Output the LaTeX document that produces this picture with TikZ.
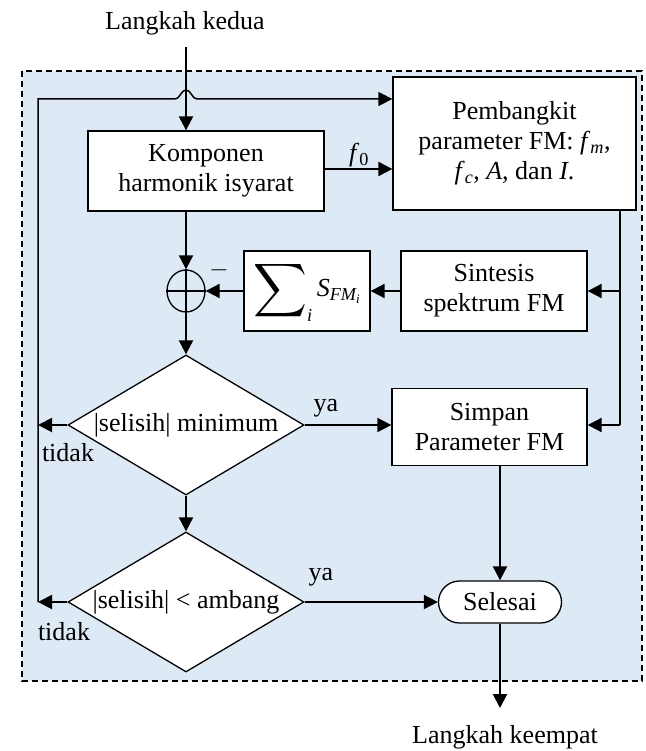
\documentclass[tikz,border=0pt]{standalone}
\usepackage{amsmath}
\usepackage{fontspec}
\setmainfont{Liberation Serif}
\usetikzlibrary{arrows.meta,shapes.geometric}
\definecolor{panelblue}{RGB}{222,233,246}
\begin{document}
\begin{tikzpicture}[x=1pt,y=-1pt,
  font=\fontsize{26}{30}\selectfont,
  box/.style={draw, line width=1.3pt, fill=white, inner sep=0pt, align=center},
  decision/.style={shape=diamond, draw, line width=1.3pt, fill=white, inner sep=0pt,
    aspect=1.7, minimum width=236pt, minimum height=140pt},
  arr/.style={line width=2pt, -{Triangle[length=14pt,width=14pt]}},
  ln/.style={line width=1.5pt},
  lbl/.style={inner sep=0pt}]
\useasboundingbox (0,0) rectangle (645,751);

% dashed panel holding the loop
\draw[line width=1.3pt, dash pattern=on 6pt off 4pt, fill=panelblue] (22,71) rectangle (642,681);

% blocks
\node[box, minimum width=236pt, minimum height=80pt] (komp) at (206,171) {Komponen\\harmonik isyarat};
\node[box, minimum width=243pt, minimum height=133pt] (pemb) at (514.5,143.5)
  {Pembangkit\\parameter FM: \textit{f}\textsubscript{\textit{m}},\\\textit{f}\textsubscript{\textit{c}}, \textit{A}, dan \textit{I}.};
\node[box, minimum width=186pt, minimum height=80pt] (sint) at (494,291) {Sintesis\\spektrum FM};
\node[box, minimum width=126pt, minimum height=80pt] (sumb) at (307,291)
  {$\mathop{\vcenter{\hbox{\scalebox{1.5}{$\displaystyle\sum$}}}}\nolimits_{\textit{i}} \textit{S}_{\textit{FM}_{\textit{i}}}$};
\node[draw, shape=ellipse, line width=1.3pt, inner sep=0pt, minimum width=38pt, minimum height=42pt] (sum) at (186,291) {};
\draw[line width=1.3pt] (sum.north) -- (sum.south) (sum.west) -- (sum.east);
\node[lbl] (minus) at (219,270) {$-$};

\node[decision] (d1) at (186,425) {|selisih| minimum};
\node[box, minimum width=195pt, minimum height=77pt] (simp) at (489.5,427) {Simpan\\Parameter FM};
\node[decision] (d2) at (186,602) {|selisih| < ambang};
\node[box, rounded corners=21pt, minimum width=123pt, minimum height=42pt] (sel) at (500,602) {Selesai};

% texts outside the panel
\node[lbl] (start) at (185,23) {Langkah kedua};
\node[lbl] (finish) at (505,737) {Langkah keempat};
\coordinate (instart) at (186,47);
\coordinate (outend) at (500,708);

% labels
\node[lbl] (f0) at (359,155) {\textit{f}\textsubscript{0}};
\node[lbl] (ya1) at (326,408) {ya};
\node[lbl] (tidak1) at (68,453) {tidak};
\node[lbl] (ya2) at (321,577) {ya};
\node[lbl] (tidak2) at (64,632) {tidak};

% feedback loop on the left, hopping over the input line
\coordinate (fbbot) at (38,602);
\coordinate (fbtop) at (38,99);
\coordinate (hop) at (186,99);
\draw[arr, line width=1.5pt] (fbbot) -- (fbtop) -- ([xshift=-11pt]hop)
  .. controls +(5,0) and +(-5,0) .. ([yshift=9pt]hop)
  .. controls +(5,0) and +(-5,0) .. ([xshift=11pt]hop) -- (fbtop -| pemb.west);

% main connectors
\draw[arr, line width=2.2pt] (instart) -- (instart |- komp.north);
\draw[arr] (komp.east |- 0,169) -- (pemb.west |- 0,169);
\draw[arr] (sum.north |- komp.south) -- (sum.north);
\draw[arr] (sint.west) -- (sumb.east);
\draw[arr] (sumb.west) -- (sum.east);
\draw[arr] (sum.south) -- (d1.north);
\draw[arr] (d1.south) -- (d2.north);
\draw[arr] (d1.west) -- (d1.west -| fbbot);
\draw[arr] (d2.west) -- (d2.west -| fbbot);
\draw[arr] (d1.east) -- (d1.east -| simp.west);
\draw[arr] (d2.east) -- (sel.west);
\draw[arr] (sel.north |- simp.south) -- (sel.north);
\draw[arr] (sel.south) -- (outend);

% branch from the parameter generator
\coordinate (brtop) at (620,210);
\coordinate (br1) at (620,291);
\coordinate (br2) at (620,425);
\draw[ln] (brtop) -- (br2);
\draw[arr] (br1) -- (br1 -| sint.east);
\draw[arr] (br2) -- (br2 -| simp.east);
\end{tikzpicture}
\end{document}
